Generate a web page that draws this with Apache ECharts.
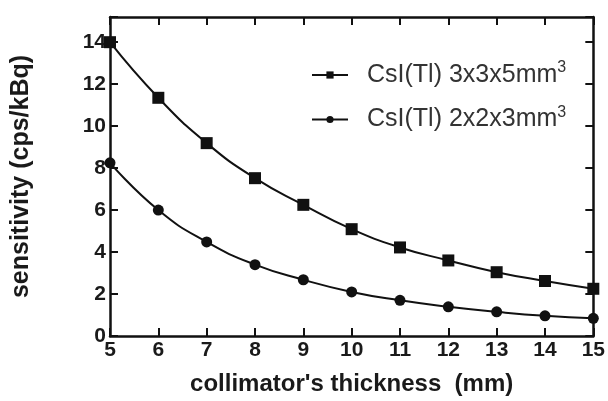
<!DOCTYPE html>
<html><head><meta charset="utf-8">
<script src="https://cdn.jsdelivr.net/npm/echarts@6/dist/echarts.min.js"></script>
<style>html,body{margin:0;padding:0;background:#fff}#c{width:608px;height:401px}</style>
</head><body><div id="c"></div>
<script>
var thickness = [5, 6, 7, 8, 9, 10, 11, 12, 13, 14, 15];
var csi335 = [14.0, 11.35, 9.19, 7.52, 6.25, 5.09, 4.22, 3.6, 3.04, 2.62, 2.25];
var csi223 = [8.25, 6.0, 4.48, 3.4, 2.68, 2.1, 1.7, 1.39, 1.15, 0.96, 0.84];
var seriesNames = ['CsI(Tl) 3x3x5mm', 'CsI(Tl) 2x2x3mm'];
var xTitle = "collimator's thickness  (mm)";
var yTitle = 'sensitivity (cps/kBq)';

function pairs(xs, ys){ return xs.map(function(x,i){ return [x, ys[i]]; }); }

var FONT = 'Liberation Sans, Arial, sans-serif';
var chart = echarts.init(document.getElementById('c'), null, {renderer:'canvas'});
var axisLine = {show:true, onZero:false, lineStyle:{color:'#111', width:2.5}};
var tick = {show:true, inside:true, length:8, lineStyle:{color:'#111', width:2}};
var tickLabel = {color:'#1a1a1a', fontFamily:FONT, fontWeight:'bold', fontSize:21};
chart.setOption({
  animation:false,
  backgroundColor:'#fff',
  grid:{left:110, right:13, top:17, bottom:65},
  legend:{
    orient:'vertical', left:306, top:55, itemGap:17, itemWidth:36, itemHeight:9,
    data:seriesNames,
    formatter:function(n){ return '{n|' + n + '}{s|3}'; },
    textStyle:{color:'#333', fontFamily:FONT, fontSize:25,
      rich:{n:{fontSize:25, color:'#333', fontFamily:FONT, padding:[0,0,0,14]},
            s:{fontSize:16, color:'#333', fontFamily:FONT, verticalAlign:'top', padding:[0,0,14,0]}}}
  },
  xAxis:[{
    type:'value', min:5, max:15, interval:1, position:'bottom',
    name:xTitle, nameLocation:'middle', nameGap:36,
    nameTextStyle:{color:'#1a1a1a', fontFamily:FONT, fontWeight:'bold', fontSize:24},
    axisLine:axisLine, axisTick:tick, splitLine:{show:false},
    axisLabel:Object.assign({margin:4}, tickLabel)
  },{
    type:'value', min:5, max:15, interval:1, position:'top',
    axisLine:axisLine, axisTick:tick, splitLine:{show:false}, axisLabel:{show:false}
  }],
  yAxis:[{
    type:'value', min:0, max:15.2, interval:2, position:'left',
    name:yTitle, nameLocation:'middle', nameGap:76, nameRotate:90,
    nameTextStyle:{color:'#1a1a1a', fontFamily:FONT, fontWeight:'bold', fontSize:25},
    axisLine:axisLine, axisTick:tick, splitLine:{show:false},
    axisLabel:Object.assign({margin:4, formatter:function(v){ return (v % 2 === 0) ? String(v) : ''; }}, tickLabel)
  },{
    type:'value', min:0, max:15.2, interval:2, position:'right',
    axisLine:axisLine, axisTick:tick, splitLine:{show:false}, axisLabel:{show:false}
  }],
  series:[{
    name:seriesNames[0], type:'line', smooth:true, data:pairs(thickness, csi335),
    symbol:'rect', symbolSize:12, itemStyle:{color:'#111'}, lineStyle:{color:'#111', width:2}
  },{
    name:seriesNames[1], type:'line', smooth:true, data:pairs(thickness, csi223),
    symbol:'circle', symbolSize:11, itemStyle:{color:'#111'}, lineStyle:{color:'#111', width:2}
  }]
});
</script></body></html>
